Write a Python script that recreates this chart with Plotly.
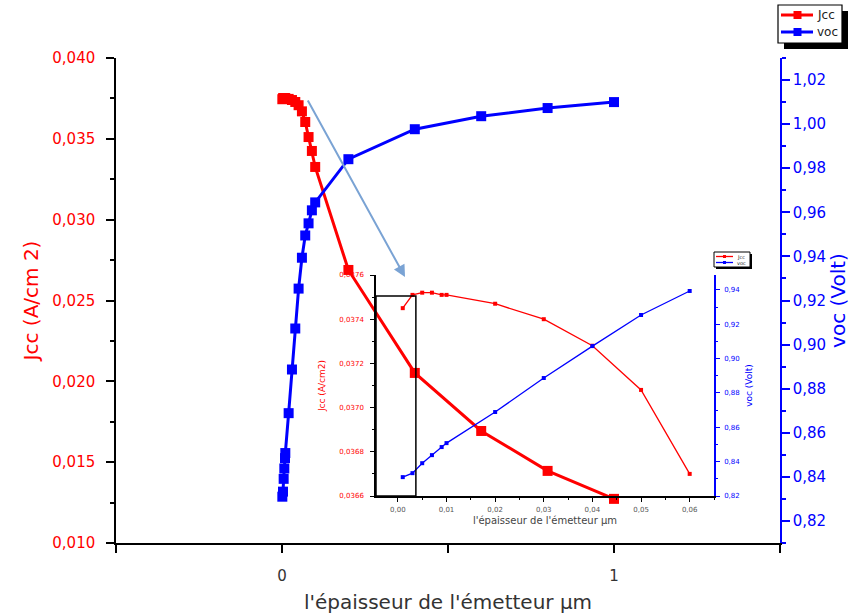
import plotly.graph_objects as go

# ---- data ----
thickness_um = [0.001, 0.003, 0.005, 0.007, 0.009, 0.01, 0.02, 0.03, 0.04, 0.05, 0.06,
                0.07, 0.08, 0.09, 0.1, 0.2, 0.4, 0.6, 0.8, 1.0]
jcc = [0.03745, 0.03751, 0.03752, 0.03752, 0.03751, 0.03751, 0.03747, 0.03740, 0.03728,
       0.03708, 0.03670, 0.03604, 0.03511, 0.03425, 0.03326, 0.02689, 0.02052, 0.01693,
       0.01446, 0.01273]
voc = [0.8310, 0.8333, 0.8391, 0.8438, 0.8485, 0.8508, 0.8689, 0.8887, 0.9073, 0.9254,
       0.9394, 0.9495, 0.9550, 0.9609, 0.9645, 0.9841, 0.9977, 1.0036, 1.0073, 1.0100]
n_inset = 11  # inset shows thickness <= 0.06 um
series_names = ["Jcc", "voc"]

x_tickvals = [-0.5, 0, 0.5, 1, 1.5]
x_ticktext = ["", "0", "", "1", ""]

RED = "#ff0000"
BLUE = "#0000ff"
FONT = "DejaVu Sans, Liberation Sans, Arial, sans-serif"

W, H = 862, 614
L, R, T, B = 116, 780, 58, 543


def px(x):
    return (x - L) / (R - L)


def py(y):
    return (B - y) / (B - T)


fig = go.Figure()

# main traces
fig.add_trace(go.Scatter(x=thickness_um, y=jcc, name=series_names[0], mode="lines+markers",
                         line=dict(color=RED, width=3),
                         marker=dict(symbol="square", size=10, color=RED),
                         showlegend=False, xaxis="x", yaxis="y"))
fig.add_trace(go.Scatter(x=thickness_um, y=voc, name=series_names[1], mode="lines+markers",
                         line=dict(color=BLUE, width=3),
                         marker=dict(symbol="square", size=10, color=BLUE),
                         showlegend=False, xaxis="x", yaxis="y2"))

# inset traces
fig.add_trace(go.Scatter(x=thickness_um[:n_inset], y=jcc[:n_inset], mode="lines+markers",
                         line=dict(color=RED, width=1.3),
                         marker=dict(symbol="square", size=4, color=RED),
                         showlegend=False, xaxis="x2", yaxis="y3"))
fig.add_trace(go.Scatter(x=thickness_um[:n_inset], y=voc[:n_inset], mode="lines+markers",
                         line=dict(color=BLUE, width=1.3),
                         marker=dict(symbol="square", size=4, color=BLUE),
                         showlegend=False, xaxis="x2", yaxis="y4"))

fig.update_layout(
    width=W, height=H,
    margin=dict(l=L, r=W - R, t=T, b=H - B, autoexpand=False),
    paper_bgcolor="white", plot_bgcolor="rgba(0,0,0,0)",
    separators=", ",
    font=dict(family=FONT),
    showlegend=False,
    xaxis=dict(range=[-0.5, 1.5], tickvals=x_tickvals, ticktext=x_ticktext, automargin=False,
               showgrid=False, zeroline=False, showline=True, linecolor="black", linewidth=1.5,
               ticks="outside", ticklen=8, tickwidth=1.5, tickcolor="black",
               ticklabelstandoff=10,
               tickfont=dict(family=FONT, size=15, color="#333"),
               title=dict(text="l'épaisseur de l'émetteur µm",
                          font=dict(family=FONT, size=20, color="#333"), standoff=14),
               anchor="y"),
    xaxis4=dict(range=[-0.5, 1.5], tickvals=x_tickvals, ticktext=x_ticktext, automargin=False,
                overlaying="x", side="top", anchor="y", showgrid=False, zeroline=False,
                showline=True, linecolor="#aaaaaa", linewidth=1,
                ticks="inside", ticklen=7, tickwidth=1.5, tickcolor="black",
                showticklabels=False),
    yaxis=dict(range=[0.010, 0.040], dtick=0.005, tickformat=".3f", automargin=False,
               showgrid=False, zeroline=False, showline=True, linecolor="black", linewidth=1.5,
               ticks="outside", ticklen=8, tickwidth=1.5, tickcolor="black",
               ticklabelstandoff=8,
               minor=dict(ticks="outside", ticklen=4, dtick=0.0025, tickcolor="black"),
               tickfont=dict(family=FONT, size=15, color=RED),
               title=dict(text="Jcc (A/cm 2)", font=dict(family=FONT, size=20, color=RED),
                          standoff=8),
               anchor="x"),
    yaxis2=dict(range=[0.81, 1.03], dtick=0.02, tickformat=".2f", overlaying="y", side="right",
                anchor="x", automargin=False, showgrid=False, zeroline=False, showline=True,
                linecolor=BLUE, linewidth=1.5, ticks="outside", ticklen=8, tickwidth=1.5,
                tickcolor=BLUE,
                minor=dict(ticks="outside", ticklen=4, dtick=0.01, tickcolor=BLUE),
                tickfont=dict(family=FONT, size=15, color=BLUE),
                title=dict(text="voc (Volt)", font=dict(family=FONT, size=20, color=BLUE),
                           standoff=6)),
    # inset axes
    xaxis2=dict(domain=[px(376), px(714)], range=[-0.0045, 0.065], dtick=0.01, tickformat=".2f",
                anchor="y3", automargin=False, showgrid=False, zeroline=False, showline=True,
                linecolor="black", linewidth=1.5, ticks="outside", ticklen=4, tickwidth=1,
                tickcolor="black", ticklabelstandoff=2,
                minor=dict(ticks="outside", ticklen=2, dtick=0.005, tickcolor="black"),
                tickfont=dict(family=FONT, size=7, color="#555"),
                title=dict(text="l'épaisseur de l'émetteur µm",
                           font=dict(family=FONT, size=10, color="#444"), standoff=4)),
    xaxis3=dict(range=[-0.0045, 0.065], dtick=0.01, overlaying="x2", side="top", anchor="y3",
                automargin=False, showgrid=False, zeroline=False, showline=True,
                linecolor="black", linewidth=1.5,
                ticks="inside", ticklen=4, tickwidth=1, tickcolor="black",
                showticklabels=False),
    yaxis3=dict(domain=[py(496), py(275)], range=[0.0366, 0.0376], dtick=0.0002,
                tickformat=".4f", anchor="x2", automargin=False, showgrid=False, zeroline=False,
                showline=True, linecolor="black", linewidth=1.5, ticks="outside", ticklen=4,
                tickwidth=1, tickcolor="black", ticklabelstandoff=5,
                minor=dict(ticks="outside", ticklen=2, dtick=0.0001, tickcolor="black"),
                tickfont=dict(family=FONT, size=7, color=RED),
                title=dict(text="Jcc (A/cm2)", font=dict(family=FONT, size=9, color=RED),
                           standoff=12)),
    yaxis4=dict(range=[0.82, 0.9487], dtick=0.02, tickformat=".2f", overlaying="y3",
                side="right", anchor="x2", automargin=False, showgrid=False, zeroline=False,
                showline=True, linecolor=BLUE, linewidth=1.5, ticks="outside", ticklen=4,
                tickwidth=1, tickcolor=BLUE, ticklabelstandoff=3,
                minor=dict(ticks="outside", ticklen=2, dtick=0.01, tickcolor=BLUE),
                tickfont=dict(family=FONT, size=7, color=BLUE),
                title=dict(text="voc (Volt)", font=dict(family=FONT, size=9, color=BLUE),
                           standoff=6)),
)

shapes = []
annotations = []

# ---- main legend (shadow + box + samples) ----
shapes.append(dict(type="rect", xref="paper", yref="paper",
                   x0=px(784), x1=px(848), y0=py(49), y1=py(11),
                   fillcolor="black", line=dict(width=0)))
shapes.append(dict(type="rect", xref="paper", yref="paper",
                   x0=px(778), x1=px(842), y0=py(43), y1=py(5),
                   fillcolor="white", line=dict(color="black", width=1.2)))
for name, yy, col in [(series_names[0], 15, RED), (series_names[1], 32, BLUE)]:
    shapes.append(dict(type="line", xref="paper", yref="paper",
                       x0=px(781), x1=px(813), y0=py(yy), y1=py(yy),
                       line=dict(color=col, width=3)))
    shapes.append(dict(type="rect", xref="paper", yref="paper",
                       x0=px(793.5), x1=px(801.5), y0=py(yy + 4), y1=py(yy - 4),
                       fillcolor=col, line=dict(width=0)))
    annotations.append(dict(x=px(815), y=py(yy), xref="paper", yref="paper", text=name,
                            showarrow=False, xanchor="left", yanchor="middle",
                            font=dict(family=FONT, size=12, color="#222")))

# ---- inset zoom box ----
shapes.append(dict(type="rect", xref="x2", yref="y3", x0=-0.0045, x1=0.0037,
                   y0=0.0366, y1=0.037505, line=dict(color="black", width=1.5)))

# ---- inset legend (shadow + box + samples) ----
shapes.append(dict(type="rect", xref="paper", yref="paper",
                   x0=px(716), x1=px(752), y0=py(269), y1=py(254),
                   fillcolor="black", line=dict(width=0)))
shapes.append(dict(type="rect", xref="paper", yref="paper",
                   x0=px(714), x1=px(750), y0=py(267), y1=py(252),
                   fillcolor="white", line=dict(color="black", width=1)))
for name, yy, col in [(series_names[0], 256.5, RED), (series_names[1], 262.5, BLUE)]:
    shapes.append(dict(type="line", xref="paper", yref="paper",
                       x0=px(716), x1=px(733), y0=py(yy), y1=py(yy),
                       line=dict(color=col, width=1.3)))
    shapes.append(dict(type="rect", xref="paper", yref="paper",
                       x0=px(723), x1=px(726), y0=py(yy + 1.5), y1=py(yy - 1.5),
                       fillcolor=col, line=dict(width=0)))
    annotations.append(dict(x=px(735), y=py(yy), xref="paper", yref="paper", text=name,
                            showarrow=False, xanchor="left", yanchor="middle",
                            font=dict(family=FONT, size=5, color="#222")))

# ---- arrow from the main curve to the inset ----
annotations.append(dict(x=0.3705, y=0.02645, xref="x", yref="y", ax=0.0753, ay=0.03746,
                        axref="x", ayref="y", text="", showarrow=True, arrowhead=2,
                        arrowsize=1.2, arrowwidth=2, arrowcolor="#7aa3d4", standoff=0))

fig.update_layout(shapes=shapes, annotations=annotations)

# remove the browser's default 8px body margin so the figure sits at the page origin
fig.write_html("out.html", config={"displayModeBar": False},
               post_script="document.body.style.margin='0';")
